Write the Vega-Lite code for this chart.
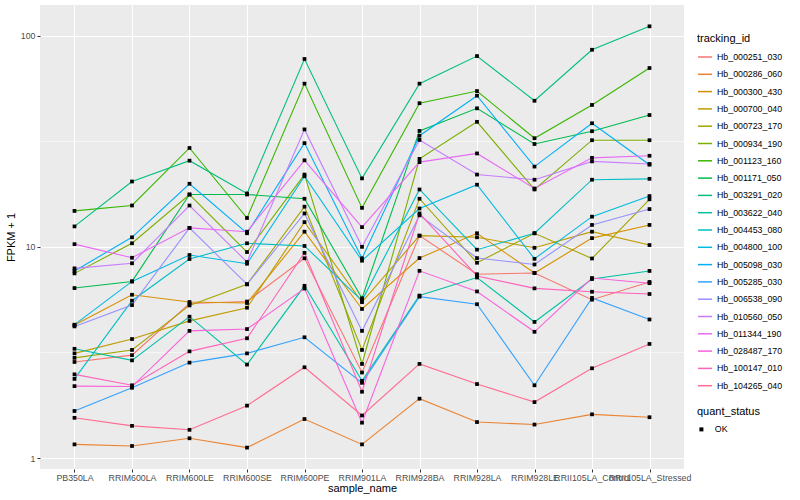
{
"$schema": "https://vega.github.io/schema/vega-lite/v6.json",
"width": 644, "height": 464,
"autosize": {"type": "none"},
"padding": {"left": 40, "top": 5, "right": 116, "bottom": 31},
"background": "white",
"config": {
  "view": {"fill": "#EBEBEB", "stroke": null},
  "font": "Liberation Sans",
  "axis": {"domain": false, "gridColor": "white", "gridWidth": 1.07, "tickColor": "#333333", "tickSize": 3, "tickWidth": 1, "labelColor": "#4D4D4D", "labelFontSize": 8.8, "labelFont": "Liberation Sans", "titleFont": "Liberation Sans", "titleFontSize": 11, "titleFontWeight": "normal", "titleColor": "black"},
  "legend": {"titleFont": "Liberation Sans", "titleFontSize": 11, "titleFontWeight": "normal", "titleColor": "black", "labelFont": "Liberation Sans", "labelFontSize": 8.8, "labelColor": "black"}
},
"datasets": {
"d": [
{"tracking_id":"Hb_000251_030","sample_name":"PB350LA","fpkm":2.85,"quant_status":"OK"},
{"tracking_id":"Hb_000251_030","sample_name":"RRIM600LA","fpkm":3.07,"quant_status":"OK"},
{"tracking_id":"Hb_000251_030","sample_name":"RRIM600LE","fpkm":5.39,"quant_status":"OK"},
{"tracking_id":"Hb_000251_030","sample_name":"RRIM600SE","fpkm":5.51,"quant_status":"OK"},
{"tracking_id":"Hb_000251_030","sample_name":"RRIM600PE","fpkm":8.83,"quant_status":"OK"},
{"tracking_id":"Hb_000251_030","sample_name":"RRIM901LA","fpkm":2.54,"quant_status":"OK"},
{"tracking_id":"Hb_000251_030","sample_name":"RRIM928BA","fpkm":11.3,"quant_status":"OK"},
{"tracking_id":"Hb_000251_030","sample_name":"RRIM928LA","fpkm":7.42,"quant_status":"OK"},
{"tracking_id":"Hb_000251_030","sample_name":"RRIM928LE","fpkm":7.52,"quant_status":"OK"},
{"tracking_id":"Hb_000251_030","sample_name":"RRII105LA_Control","fpkm":5.62,"quant_status":"OK"},
{"tracking_id":"Hb_000251_030","sample_name":"RRII105LA_Stressed","fpkm":6.82,"quant_status":"OK"},
{"tracking_id":"Hb_000286_060","sample_name":"PB350LA","fpkm":1.16,"quant_status":"OK"},
{"tracking_id":"Hb_000286_060","sample_name":"RRIM600LA","fpkm":1.14,"quant_status":"OK"},
{"tracking_id":"Hb_000286_060","sample_name":"RRIM600LE","fpkm":1.24,"quant_status":"OK"},
{"tracking_id":"Hb_000286_060","sample_name":"RRIM600SE","fpkm":1.12,"quant_status":"OK"},
{"tracking_id":"Hb_000286_060","sample_name":"RRIM600PE","fpkm":1.53,"quant_status":"OK"},
{"tracking_id":"Hb_000286_060","sample_name":"RRIM901LA","fpkm":1.16,"quant_status":"OK"},
{"tracking_id":"Hb_000286_060","sample_name":"RRIM928BA","fpkm":1.91,"quant_status":"OK"},
{"tracking_id":"Hb_000286_060","sample_name":"RRIM928LA","fpkm":1.48,"quant_status":"OK"},
{"tracking_id":"Hb_000286_060","sample_name":"RRIM928LE","fpkm":1.44,"quant_status":"OK"},
{"tracking_id":"Hb_000286_060","sample_name":"RRII105LA_Control","fpkm":1.61,"quant_status":"OK"},
{"tracking_id":"Hb_000286_060","sample_name":"RRII105LA_Stressed","fpkm":1.56,"quant_status":"OK"},
{"tracking_id":"Hb_000300_430","sample_name":"PB350LA","fpkm":4.26,"quant_status":"OK"},
{"tracking_id":"Hb_000300_430","sample_name":"RRIM600LA","fpkm":5.93,"quant_status":"OK"},
{"tracking_id":"Hb_000300_430","sample_name":"RRIM600LE","fpkm":5.48,"quant_status":"OK"},
{"tracking_id":"Hb_000300_430","sample_name":"RRIM600SE","fpkm":5.42,"quant_status":"OK"},
{"tracking_id":"Hb_000300_430","sample_name":"RRIM600PE","fpkm":11.8,"quant_status":"OK"},
{"tracking_id":"Hb_000300_430","sample_name":"RRIM901LA","fpkm":5.08,"quant_status":"OK"},
{"tracking_id":"Hb_000300_430","sample_name":"RRIM928BA","fpkm":8.85,"quant_status":"OK"},
{"tracking_id":"Hb_000300_430","sample_name":"RRIM928LA","fpkm":11.6,"quant_status":"OK"},
{"tracking_id":"Hb_000300_430","sample_name":"RRIM928LE","fpkm":7.52,"quant_status":"OK"},
{"tracking_id":"Hb_000300_430","sample_name":"RRII105LA_Control","fpkm":11.0,"quant_status":"OK"},
{"tracking_id":"Hb_000300_430","sample_name":"RRII105LA_Stressed","fpkm":12.7,"quant_status":"OK"},
{"tracking_id":"Hb_000700_040","sample_name":"PB350LA","fpkm":3.13,"quant_status":"OK"},
{"tracking_id":"Hb_000700_040","sample_name":"RRIM600LA","fpkm":3.66,"quant_status":"OK"},
{"tracking_id":"Hb_000700_040","sample_name":"RRIM600LE","fpkm":4.46,"quant_status":"OK"},
{"tracking_id":"Hb_000700_040","sample_name":"RRIM600SE","fpkm":5.15,"quant_status":"OK"},
{"tracking_id":"Hb_000700_040","sample_name":"RRIM600PE","fpkm":13.1,"quant_status":"OK"},
{"tracking_id":"Hb_000700_040","sample_name":"RRIM901LA","fpkm":5.47,"quant_status":"OK"},
{"tracking_id":"Hb_000700_040","sample_name":"RRIM928BA","fpkm":11.3,"quant_status":"OK"},
{"tracking_id":"Hb_000700_040","sample_name":"RRIM928LA","fpkm":11.1,"quant_status":"OK"},
{"tracking_id":"Hb_000700_040","sample_name":"RRIM928LE","fpkm":9.9,"quant_status":"OK"},
{"tracking_id":"Hb_000700_040","sample_name":"RRII105LA_Control","fpkm":11.8,"quant_status":"OK"},
{"tracking_id":"Hb_000700_040","sample_name":"RRII105LA_Stressed","fpkm":10.2,"quant_status":"OK"},
{"tracking_id":"Hb_000723_170","sample_name":"PB350LA","fpkm":2.98,"quant_status":"OK"},
{"tracking_id":"Hb_000723_170","sample_name":"RRIM600LA","fpkm":3.25,"quant_status":"OK"},
{"tracking_id":"Hb_000723_170","sample_name":"RRIM600LE","fpkm":5.28,"quant_status":"OK"},
{"tracking_id":"Hb_000723_170","sample_name":"RRIM600SE","fpkm":6.65,"quant_status":"OK"},
{"tracking_id":"Hb_000723_170","sample_name":"RRIM600PE","fpkm":15.5,"quant_status":"OK"},
{"tracking_id":"Hb_000723_170","sample_name":"RRIM901LA","fpkm":3.25,"quant_status":"OK"},
{"tracking_id":"Hb_000723_170","sample_name":"RRIM928BA","fpkm":16.9,"quant_status":"OK"},
{"tracking_id":"Hb_000723_170","sample_name":"RRIM928LA","fpkm":8.41,"quant_status":"OK"},
{"tracking_id":"Hb_000723_170","sample_name":"RRIM928LE","fpkm":11.6,"quant_status":"OK"},
{"tracking_id":"Hb_000723_170","sample_name":"RRII105LA_Control","fpkm":8.81,"quant_status":"OK"},
{"tracking_id":"Hb_000723_170","sample_name":"RRII105LA_Stressed","fpkm":16.8,"quant_status":"OK"},
{"tracking_id":"Hb_000934_190","sample_name":"PB350LA","fpkm":7.49,"quant_status":"OK"},
{"tracking_id":"Hb_000934_190","sample_name":"RRIM600LA","fpkm":10.4,"quant_status":"OK"},
{"tracking_id":"Hb_000934_190","sample_name":"RRIM600LE","fpkm":17.7,"quant_status":"OK"},
{"tracking_id":"Hb_000934_190","sample_name":"RRIM600SE","fpkm":9.45,"quant_status":"OK"},
{"tracking_id":"Hb_000934_190","sample_name":"RRIM600PE","fpkm":22.0,"quant_status":"OK"},
{"tracking_id":"Hb_000934_190","sample_name":"RRIM901LA","fpkm":2.79,"quant_status":"OK"},
{"tracking_id":"Hb_000934_190","sample_name":"RRIM928BA","fpkm":26.1,"quant_status":"OK"},
{"tracking_id":"Hb_000934_190","sample_name":"RRIM928LA","fpkm":39.1,"quant_status":"OK"},
{"tracking_id":"Hb_000934_190","sample_name":"RRIM928LE","fpkm":18.7,"quant_status":"OK"},
{"tracking_id":"Hb_000934_190","sample_name":"RRII105LA_Control","fpkm":32.0,"quant_status":"OK"},
{"tracking_id":"Hb_000934_190","sample_name":"RRII105LA_Stressed","fpkm":32.0,"quant_status":"OK"},
{"tracking_id":"Hb_001123_160","sample_name":"PB350LA","fpkm":14.8,"quant_status":"OK"},
{"tracking_id":"Hb_001123_160","sample_name":"RRIM600LA","fpkm":15.7,"quant_status":"OK"},
{"tracking_id":"Hb_001123_160","sample_name":"RRIM600LE","fpkm":29.4,"quant_status":"OK"},
{"tracking_id":"Hb_001123_160","sample_name":"RRIM600SE","fpkm":13.7,"quant_status":"OK"},
{"tracking_id":"Hb_001123_160","sample_name":"RRIM600PE","fpkm":59.3,"quant_status":"OK"},
{"tracking_id":"Hb_001123_160","sample_name":"RRIM901LA","fpkm":15.3,"quant_status":"OK"},
{"tracking_id":"Hb_001123_160","sample_name":"RRIM928BA","fpkm":47.9,"quant_status":"OK"},
{"tracking_id":"Hb_001123_160","sample_name":"RRIM928LA","fpkm":54.7,"quant_status":"OK"},
{"tracking_id":"Hb_001123_160","sample_name":"RRIM928LE","fpkm":32.7,"quant_status":"OK"},
{"tracking_id":"Hb_001123_160","sample_name":"RRII105LA_Control","fpkm":47.0,"quant_status":"OK"},
{"tracking_id":"Hb_001123_160","sample_name":"RRII105LA_Stressed","fpkm":70.3,"quant_status":"OK"},
{"tracking_id":"Hb_001171_050","sample_name":"PB350LA","fpkm":6.38,"quant_status":"OK"},
{"tracking_id":"Hb_001171_050","sample_name":"RRIM600LA","fpkm":6.86,"quant_status":"OK"},
{"tracking_id":"Hb_001171_050","sample_name":"RRIM600LE","fpkm":17.7,"quant_status":"OK"},
{"tracking_id":"Hb_001171_050","sample_name":"RRIM600SE","fpkm":17.7,"quant_status":"OK"},
{"tracking_id":"Hb_001171_050","sample_name":"RRIM600PE","fpkm":16.9,"quant_status":"OK"},
{"tracking_id":"Hb_001171_050","sample_name":"RRIM901LA","fpkm":5.71,"quant_status":"OK"},
{"tracking_id":"Hb_001171_050","sample_name":"RRIM928BA","fpkm":35.4,"quant_status":"OK"},
{"tracking_id":"Hb_001171_050","sample_name":"RRIM928LA","fpkm":45.3,"quant_status":"OK"},
{"tracking_id":"Hb_001171_050","sample_name":"RRIM928LE","fpkm":30.7,"quant_status":"OK"},
{"tracking_id":"Hb_001171_050","sample_name":"RRII105LA_Control","fpkm":35.3,"quant_status":"OK"},
{"tracking_id":"Hb_001171_050","sample_name":"RRII105LA_Stressed","fpkm":42.1,"quant_status":"OK"},
{"tracking_id":"Hb_003291_020","sample_name":"PB350LA","fpkm":12.5,"quant_status":"OK"},
{"tracking_id":"Hb_003291_020","sample_name":"RRIM600LA","fpkm":20.4,"quant_status":"OK"},
{"tracking_id":"Hb_003291_020","sample_name":"RRIM600LE","fpkm":25.6,"quant_status":"OK"},
{"tracking_id":"Hb_003291_020","sample_name":"RRIM600SE","fpkm":17.9,"quant_status":"OK"},
{"tracking_id":"Hb_003291_020","sample_name":"RRIM600PE","fpkm":77.6,"quant_status":"OK"},
{"tracking_id":"Hb_003291_020","sample_name":"RRIM901LA","fpkm":21.1,"quant_status":"OK"},
{"tracking_id":"Hb_003291_020","sample_name":"RRIM928BA","fpkm":59.3,"quant_status":"OK"},
{"tracking_id":"Hb_003291_020","sample_name":"RRIM928LA","fpkm":80.1,"quant_status":"OK"},
{"tracking_id":"Hb_003291_020","sample_name":"RRIM928LE","fpkm":49.2,"quant_status":"OK"},
{"tracking_id":"Hb_003291_020","sample_name":"RRII105LA_Control","fpkm":85.8,"quant_status":"OK"},
{"tracking_id":"Hb_003291_020","sample_name":"RRII105LA_Stressed","fpkm":110.8,"quant_status":"OK"},
{"tracking_id":"Hb_003622_040","sample_name":"PB350LA","fpkm":3.29,"quant_status":"OK"},
{"tracking_id":"Hb_003622_040","sample_name":"RRIM600LA","fpkm":2.90,"quant_status":"OK"},
{"tracking_id":"Hb_003622_040","sample_name":"RRIM600LE","fpkm":4.67,"quant_status":"OK"},
{"tracking_id":"Hb_003622_040","sample_name":"RRIM600SE","fpkm":2.77,"quant_status":"OK"},
{"tracking_id":"Hb_003622_040","sample_name":"RRIM600PE","fpkm":6.54,"quant_status":"OK"},
{"tracking_id":"Hb_003622_040","sample_name":"RRIM901LA","fpkm":2.32,"quant_status":"OK"},
{"tracking_id":"Hb_003622_040","sample_name":"RRIM928BA","fpkm":5.88,"quant_status":"OK"},
{"tracking_id":"Hb_003622_040","sample_name":"RRIM928LA","fpkm":7.16,"quant_status":"OK"},
{"tracking_id":"Hb_003622_040","sample_name":"RRIM928LE","fpkm":4.41,"quant_status":"OK"},
{"tracking_id":"Hb_003622_040","sample_name":"RRII105LA_Control","fpkm":7.04,"quant_status":"OK"},
{"tracking_id":"Hb_003622_040","sample_name":"RRII105LA_Stressed","fpkm":7.69,"quant_status":"OK"},
{"tracking_id":"Hb_004453_080","sample_name":"PB350LA","fpkm":2.37,"quant_status":"OK"},
{"tracking_id":"Hb_004453_080","sample_name":"RRIM600LA","fpkm":5.56,"quant_status":"OK"},
{"tracking_id":"Hb_004453_080","sample_name":"RRIM600LE","fpkm":8.76,"quant_status":"OK"},
{"tracking_id":"Hb_004453_080","sample_name":"RRIM600SE","fpkm":10.4,"quant_status":"OK"},
{"tracking_id":"Hb_004453_080","sample_name":"RRIM600PE","fpkm":10.1,"quant_status":"OK"},
{"tracking_id":"Hb_004453_080","sample_name":"RRIM901LA","fpkm":5.57,"quant_status":"OK"},
{"tracking_id":"Hb_004453_080","sample_name":"RRIM928BA","fpkm":18.7,"quant_status":"OK"},
{"tracking_id":"Hb_004453_080","sample_name":"RRIM928LA","fpkm":9.7,"quant_status":"OK"},
{"tracking_id":"Hb_004453_080","sample_name":"RRIM928LE","fpkm":11.6,"quant_status":"OK"},
{"tracking_id":"Hb_004453_080","sample_name":"RRII105LA_Control","fpkm":20.8,"quant_status":"OK"},
{"tracking_id":"Hb_004453_080","sample_name":"RRII105LA_Stressed","fpkm":21.0,"quant_status":"OK"},
{"tracking_id":"Hb_004800_100","sample_name":"PB350LA","fpkm":4.28,"quant_status":"OK"},
{"tracking_id":"Hb_004800_100","sample_name":"RRIM600LA","fpkm":6.86,"quant_status":"OK"},
{"tracking_id":"Hb_004800_100","sample_name":"RRIM600LE","fpkm":9.15,"quant_status":"OK"},
{"tracking_id":"Hb_004800_100","sample_name":"RRIM600SE","fpkm":8.32,"quant_status":"OK"},
{"tracking_id":"Hb_004800_100","sample_name":"RRIM600PE","fpkm":21.6,"quant_status":"OK"},
{"tracking_id":"Hb_004800_100","sample_name":"RRIM901LA","fpkm":8.6,"quant_status":"OK"},
{"tracking_id":"Hb_004800_100","sample_name":"RRIM928BA","fpkm":15.2,"quant_status":"OK"},
{"tracking_id":"Hb_004800_100","sample_name":"RRIM928LA","fpkm":19.7,"quant_status":"OK"},
{"tracking_id":"Hb_004800_100","sample_name":"RRIM928LE","fpkm":8.78,"quant_status":"OK"},
{"tracking_id":"Hb_004800_100","sample_name":"RRII105LA_Control","fpkm":13.9,"quant_status":"OK"},
{"tracking_id":"Hb_004800_100","sample_name":"RRII105LA_Stressed","fpkm":17.4,"quant_status":"OK"},
{"tracking_id":"Hb_005098_030","sample_name":"PB350LA","fpkm":7.69,"quant_status":"OK"},
{"tracking_id":"Hb_005098_030","sample_name":"RRIM600LA","fpkm":11.1,"quant_status":"OK"},
{"tracking_id":"Hb_005098_030","sample_name":"RRIM600LE","fpkm":19.9,"quant_status":"OK"},
{"tracking_id":"Hb_005098_030","sample_name":"RRIM600SE","fpkm":11.6,"quant_status":"OK"},
{"tracking_id":"Hb_005098_030","sample_name":"RRIM600PE","fpkm":31.0,"quant_status":"OK"},
{"tracking_id":"Hb_005098_030","sample_name":"RRIM901LA","fpkm":8.83,"quant_status":"OK"},
{"tracking_id":"Hb_005098_030","sample_name":"RRIM928BA","fpkm":33.6,"quant_status":"OK"},
{"tracking_id":"Hb_005098_030","sample_name":"RRIM928LA","fpkm":52.0,"quant_status":"OK"},
{"tracking_id":"Hb_005098_030","sample_name":"RRIM928LE","fpkm":24.0,"quant_status":"OK"},
{"tracking_id":"Hb_005098_030","sample_name":"RRII105LA_Control","fpkm":38.5,"quant_status":"OK"},
{"tracking_id":"Hb_005098_030","sample_name":"RRII105LA_Stressed","fpkm":24.5,"quant_status":"OK"},
{"tracking_id":"Hb_005285_030","sample_name":"PB350LA","fpkm":1.67,"quant_status":"OK"},
{"tracking_id":"Hb_005285_030","sample_name":"RRIM600LA","fpkm":2.15,"quant_status":"OK"},
{"tracking_id":"Hb_005285_030","sample_name":"RRIM600LE","fpkm":2.83,"quant_status":"OK"},
{"tracking_id":"Hb_005285_030","sample_name":"RRIM600SE","fpkm":3.13,"quant_status":"OK"},
{"tracking_id":"Hb_005285_030","sample_name":"RRIM600PE","fpkm":3.73,"quant_status":"OK"},
{"tracking_id":"Hb_005285_030","sample_name":"RRIM901LA","fpkm":2.27,"quant_status":"OK"},
{"tracking_id":"Hb_005285_030","sample_name":"RRIM928BA","fpkm":5.81,"quant_status":"OK"},
{"tracking_id":"Hb_005285_030","sample_name":"RRIM928LA","fpkm":5.35,"quant_status":"OK"},
{"tracking_id":"Hb_005285_030","sample_name":"RRIM928LE","fpkm":2.21,"quant_status":"OK"},
{"tracking_id":"Hb_005285_030","sample_name":"RRII105LA_Control","fpkm":5.73,"quant_status":"OK"},
{"tracking_id":"Hb_005285_030","sample_name":"RRII105LA_Stressed","fpkm":4.53,"quant_status":"OK"},
{"tracking_id":"Hb_006538_090","sample_name":"PB350LA","fpkm":4.20,"quant_status":"OK"},
{"tracking_id":"Hb_006538_090","sample_name":"RRIM600LA","fpkm":5.30,"quant_status":"OK"},
{"tracking_id":"Hb_006538_090","sample_name":"RRIM600LE","fpkm":12.3,"quant_status":"OK"},
{"tracking_id":"Hb_006538_090","sample_name":"RRIM600SE","fpkm":6.65,"quant_status":"OK"},
{"tracking_id":"Hb_006538_090","sample_name":"RRIM600PE","fpkm":14.4,"quant_status":"OK"},
{"tracking_id":"Hb_006538_090","sample_name":"RRIM901LA","fpkm":4.00,"quant_status":"OK"},
{"tracking_id":"Hb_006538_090","sample_name":"RRIM928BA","fpkm":14.1,"quant_status":"OK"},
{"tracking_id":"Hb_006538_090","sample_name":"RRIM928LA","fpkm":8.85,"quant_status":"OK"},
{"tracking_id":"Hb_006538_090","sample_name":"RRIM928LE","fpkm":8.25,"quant_status":"OK"},
{"tracking_id":"Hb_006538_090","sample_name":"RRII105LA_Control","fpkm":12.7,"quant_status":"OK"},
{"tracking_id":"Hb_006538_090","sample_name":"RRII105LA_Stressed","fpkm":15.1,"quant_status":"OK"},
{"tracking_id":"Hb_010560_050","sample_name":"PB350LA","fpkm":7.91,"quant_status":"OK"},
{"tracking_id":"Hb_010560_050","sample_name":"RRIM600LA","fpkm":8.36,"quant_status":"OK"},
{"tracking_id":"Hb_010560_050","sample_name":"RRIM600LE","fpkm":15.7,"quant_status":"OK"},
{"tracking_id":"Hb_010560_050","sample_name":"RRIM600SE","fpkm":8.48,"quant_status":"OK"},
{"tracking_id":"Hb_010560_050","sample_name":"RRIM600PE","fpkm":36.0,"quant_status":"OK"},
{"tracking_id":"Hb_010560_050","sample_name":"RRIM901LA","fpkm":10.0,"quant_status":"OK"},
{"tracking_id":"Hb_010560_050","sample_name":"RRIM928BA","fpkm":32.1,"quant_status":"OK"},
{"tracking_id":"Hb_010560_050","sample_name":"RRIM928LA","fpkm":22.0,"quant_status":"OK"},
{"tracking_id":"Hb_010560_050","sample_name":"RRIM928LE","fpkm":20.8,"quant_status":"OK"},
{"tracking_id":"Hb_010560_050","sample_name":"RRII105LA_Control","fpkm":25.4,"quant_status":"OK"},
{"tracking_id":"Hb_010560_050","sample_name":"RRII105LA_Stressed","fpkm":24.7,"quant_status":"OK"},
{"tracking_id":"Hb_011344_190","sample_name":"PB350LA","fpkm":10.3,"quant_status":"OK"},
{"tracking_id":"Hb_011344_190","sample_name":"RRIM600LA","fpkm":8.88,"quant_status":"OK"},
{"tracking_id":"Hb_011344_190","sample_name":"RRIM600LE","fpkm":12.3,"quant_status":"OK"},
{"tracking_id":"Hb_011344_190","sample_name":"RRIM600SE","fpkm":11.8,"quant_status":"OK"},
{"tracking_id":"Hb_011344_190","sample_name":"RRIM600PE","fpkm":25.7,"quant_status":"OK"},
{"tracking_id":"Hb_011344_190","sample_name":"RRIM901LA","fpkm":12.4,"quant_status":"OK"},
{"tracking_id":"Hb_011344_190","sample_name":"RRIM928BA","fpkm":25.2,"quant_status":"OK"},
{"tracking_id":"Hb_011344_190","sample_name":"RRIM928LA","fpkm":27.7,"quant_status":"OK"},
{"tracking_id":"Hb_011344_190","sample_name":"RRIM928LE","fpkm":18.9,"quant_status":"OK"},
{"tracking_id":"Hb_011344_190","sample_name":"RRII105LA_Control","fpkm":26.4,"quant_status":"OK"},
{"tracking_id":"Hb_011344_190","sample_name":"RRII105LA_Stressed","fpkm":27.0,"quant_status":"OK"},
{"tracking_id":"Hb_028487_170","sample_name":"PB350LA","fpkm":2.19,"quant_status":"OK"},
{"tracking_id":"Hb_028487_170","sample_name":"RRIM600LA","fpkm":2.18,"quant_status":"OK"},
{"tracking_id":"Hb_028487_170","sample_name":"RRIM600LE","fpkm":4.00,"quant_status":"OK"},
{"tracking_id":"Hb_028487_170","sample_name":"RRIM600SE","fpkm":4.08,"quant_status":"OK"},
{"tracking_id":"Hb_028487_170","sample_name":"RRIM600PE","fpkm":6.35,"quant_status":"OK"},
{"tracking_id":"Hb_028487_170","sample_name":"RRIM901LA","fpkm":1.47,"quant_status":"OK"},
{"tracking_id":"Hb_028487_170","sample_name":"RRIM928BA","fpkm":7.70,"quant_status":"OK"},
{"tracking_id":"Hb_028487_170","sample_name":"RRIM928LA","fpkm":6.15,"quant_status":"OK"},
{"tracking_id":"Hb_028487_170","sample_name":"RRIM928LE","fpkm":3.96,"quant_status":"OK"},
{"tracking_id":"Hb_028487_170","sample_name":"RRII105LA_Control","fpkm":7.12,"quant_status":"OK"},
{"tracking_id":"Hb_028487_170","sample_name":"RRII105LA_Stressed","fpkm":6.73,"quant_status":"OK"},
{"tracking_id":"Hb_100147_010","sample_name":"PB350LA","fpkm":2.49,"quant_status":"OK"},
{"tracking_id":"Hb_100147_010","sample_name":"RRIM600LA","fpkm":2.21,"quant_status":"OK"},
{"tracking_id":"Hb_100147_010","sample_name":"RRIM600LE","fpkm":3.20,"quant_status":"OK"},
{"tracking_id":"Hb_100147_010","sample_name":"RRIM600SE","fpkm":3.69,"quant_status":"OK"},
{"tracking_id":"Hb_100147_010","sample_name":"RRIM600PE","fpkm":9.37,"quant_status":"OK"},
{"tracking_id":"Hb_100147_010","sample_name":"RRIM901LA","fpkm":2.06,"quant_status":"OK"},
{"tracking_id":"Hb_100147_010","sample_name":"RRIM928BA","fpkm":14.4,"quant_status":"OK"},
{"tracking_id":"Hb_100147_010","sample_name":"RRIM928LA","fpkm":7.28,"quant_status":"OK"},
{"tracking_id":"Hb_100147_010","sample_name":"RRIM928LE","fpkm":6.36,"quant_status":"OK"},
{"tracking_id":"Hb_100147_010","sample_name":"RRII105LA_Control","fpkm":6.13,"quant_status":"OK"},
{"tracking_id":"Hb_100147_010","sample_name":"RRII105LA_Stressed","fpkm":5.98,"quant_status":"OK"},
{"tracking_id":"Hb_104265_040","sample_name":"PB350LA","fpkm":1.55,"quant_status":"OK"},
{"tracking_id":"Hb_104265_040","sample_name":"RRIM600LA","fpkm":1.42,"quant_status":"OK"},
{"tracking_id":"Hb_104265_040","sample_name":"RRIM600LE","fpkm":1.36,"quant_status":"OK"},
{"tracking_id":"Hb_104265_040","sample_name":"RRIM600SE","fpkm":1.77,"quant_status":"OK"},
{"tracking_id":"Hb_104265_040","sample_name":"RRIM600PE","fpkm":2.69,"quant_status":"OK"},
{"tracking_id":"Hb_104265_040","sample_name":"RRIM901LA","fpkm":1.59,"quant_status":"OK"},
{"tracking_id":"Hb_104265_040","sample_name":"RRIM928BA","fpkm":2.79,"quant_status":"OK"},
{"tracking_id":"Hb_104265_040","sample_name":"RRIM928LA","fpkm":2.24,"quant_status":"OK"},
{"tracking_id":"Hb_104265_040","sample_name":"RRIM928LE","fpkm":1.84,"quant_status":"OK"},
{"tracking_id":"Hb_104265_040","sample_name":"RRII105LA_Control","fpkm":2.66,"quant_status":"OK"},
{"tracking_id":"Hb_104265_040","sample_name":"RRII105LA_Stressed","fpkm":3.47,"quant_status":"OK"}
]
},
"data": {"name": "d"},
"layer": [
  {
    "mark": {"type": "line", "strokeWidth": 1.1},
    "encoding": {
      "x": {"field": "sample_name", "type": "nominal",
        "sort": ["PB350LA","RRIM600LA","RRIM600LE","RRIM600SE","RRIM600PE","RRIM901LA","RRIM928BA","RRIM928LA","RRIM928LE","RRII105LA_Control","RRII105LA_Stressed"],
        "scale": {"type": "point", "padding": 0.6},
        "axis": {"labelAngle": 0, "labelOverlap": false, "labelBound": false, "labelLimit": 0, "labelPadding": 1, "title": "sample_name", "titlePadding": 1, "grid": true}},
      "y": {"field": "fpkm", "type": "quantitative",
        "scale": {"type": "log", "domain": [0.887, 139.8], "nice": false, "zero": false},
        "axis": {"values": [1, 10, 100], "format": "~g", "title": "FPKM + 1", "labelPadding": 2, "titlePadding": 4, "grid": true}},
      "color": {"field": "tracking_id", "type": "nominal",
        "scale": {"range": ["#F8766D","#EA8331","#D89000","#C09B00","#A3A500","#7CAE00","#39B600","#00BB4E","#00BF7D","#00C1A3","#00BFC4","#00BAE0","#00B0F6","#35A2FF","#9590FF","#C77CFF","#E76BF3","#FA62DB","#FF62BC","#FF6C91"]},
        "legend": {"title": "tracking_id", "orient": "none", "legendX": 657, "legendY": 28, "symbolType": "stroke", "symbolSize": 196, "symbolStrokeWidth": 1.5, "rowPadding": 4.3, "labelOffset": 4, "titlePadding": 5}},
      "order": {"value": null}
    }
  },
  {
    "mark": {"type": "point", "shape": "square", "filled": true, "color": "black", "size": 14, "opacity": 1},
    "encoding": {
      "x": {"field": "sample_name", "type": "nominal",
        "sort": ["PB350LA","RRIM600LA","RRIM600LE","RRIM600SE","RRIM600PE","RRIM901LA","RRIM928BA","RRIM928LA","RRIM928LE","RRII105LA_Control","RRII105LA_Stressed"],
        "scale": {"type": "point", "padding": 0.6},
        "axis": {"labelAngle": 0, "labelOverlap": false, "labelBound": false, "labelLimit": 0, "labelPadding": 1, "title": "sample_name", "titlePadding": 1, "grid": true}},
      "y": {"field": "fpkm", "type": "quantitative",
        "scale": {"type": "log", "domain": [0.887, 139.8], "nice": false, "zero": false},
        "axis": {"values": [3.1623, 31.623], "grid": true, "gridWidth": 0.55, "labels": false, "ticks": false, "domain": false, "title": null}},
      "shape": {"field": "quant_status", "type": "nominal", "scale": {"range": ["square"]},
        "legend": {"title": "quant_status", "orient": "none", "legendX": 657, "legendY": 401, "symbolFillColor": "black", "symbolStrokeColor": "black", "symbolSize": 16, "labelOffset": 9, "titlePadding": 8}}
    }
  }
],
"resolve": {"axis": {"y": "independent"}}
}
